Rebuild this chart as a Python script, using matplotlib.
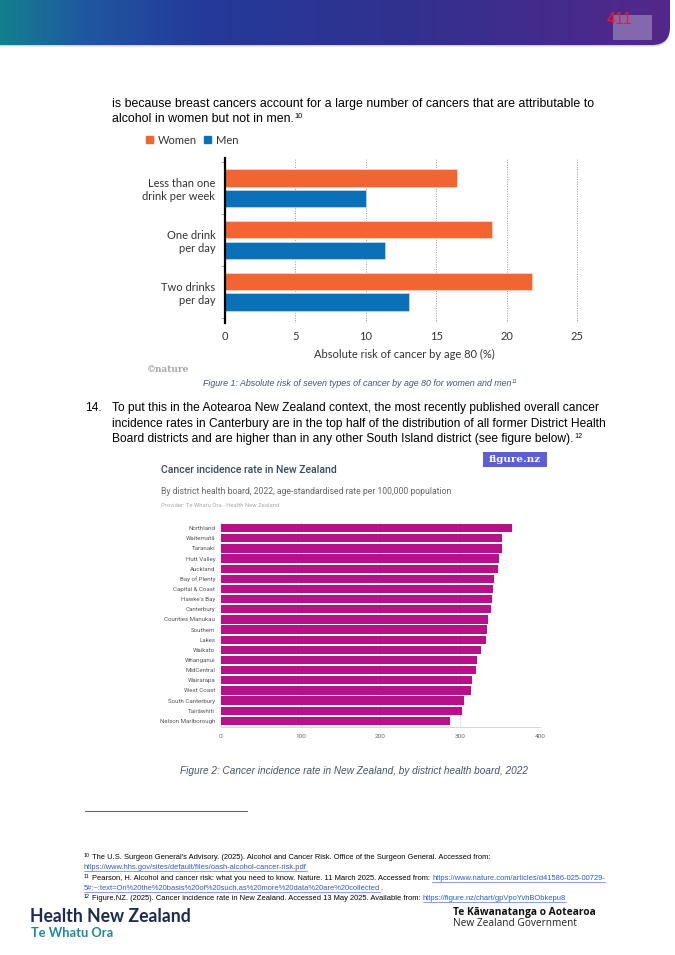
import numpy as np
import matplotlib
matplotlib.use("Agg")
import matplotlib.pyplot as plt
from matplotlib.colors import LinearSegmentedColormap
from matplotlib.patches import FancyBboxPatch, Rectangle

W, H = 675, 955

# chart 1 data (nature)
drink_levels = ["Less than one\ndrink per week", "One drink\nper day", "Two drinks\nper day"]
women_risk = [16.5, 19.0, 21.8]
men_risk = [10.0, 11.4, 13.1]
risk_ticks = [0, 5, 10, 15, 20, 25]

# chart 2 data (figure.nz)
districts = ["Northland", "Waitematā", "Taranaki", "Hutt Valley", "Auckland",
             "Bay of Plenty", "Capital & Coast", "Hawke's Bay", "Canterbury",
             "Counties Manukau", "Southern", "Lakes", "Waikato", "Whanganui",
             "MidCentral", "Wairarapa", "West Coast", "South Canterbury",
             "Tairāwhiti", "Nelson Marlborough"]
rates = [364.5, 353, 352, 349, 348, 342.5, 341.5, 340, 338, 335,
         333, 332, 326.5, 321.5, 320, 315, 313, 305, 302.5, 287]
rate_ticks = [0, 100, 200, 300, 400]

ORANGE = "#f26532"
BLUE = "#0a71b9"
MAGENTA = "#b7118a"
CAPTION = "#44546a"
BODY = ["Liberation Sans", "DejaVu Sans"]

fig = plt.figure(figsize=(W / 100, H / 100), dpi=100)
bg = fig.add_axes([0, 0, 1, 1])
bg.axis("off")


def px_axes(x0, y0, x1, y1):
    return fig.add_axes([x0 / W, 1 - y1 / H, (x1 - x0) / W, (y1 - y0) / H])


# header band
cmap = LinearSegmentedColormap.from_list(
    "hdr", [(0, "#14808f"), (0.12, "#1f58a0"), (0.3, "#243a9a"),
            (0.6, "#31318f"), (1, "#54278a")])
grad = np.tile(np.linspace(0, 1, 400), (30, 1))
shadow = FancyBboxPatch((-30, -30), 700, 76.5, boxstyle="round,pad=0,rounding_size=18",
                        facecolor="#d4d4dc", edgecolor="none", zorder=0)
bg.add_patch(shadow)
im = bg.imshow(grad, cmap=cmap, extent=[0, W, 45, 0], aspect="auto", zorder=1)
clip = FancyBboxPatch((-30, -30), 700, 75, boxstyle="round,pad=0,rounding_size=18",
                      facecolor="none", edgecolor="none", transform=bg.transData)
im.set_clip_path(clip)
bg.add_patch(Rectangle((613, 15), 39, 25, facecolor="white", alpha=0.3, zorder=2))
bg.text(619, 19, "411", color="#e8202a", fontsize=11.5, ha="center", va="center",
        family=BODY, zorder=3)
bg.set_xlim(0, W)
bg.set_ylim(H, 0)

renderer = fig.canvas.get_renderer()


def put(x, y, s, sup=None, size=8.7, **kw):
    kw.setdefault("family", BODY)
    kw.setdefault("va", "center")
    t = bg.text(x, y, s, fontsize=size, **kw)
    if sup:
        x1 = t.get_window_extent(renderer=renderer).x1
        bg.text(x1 + 0.5, y - size * 0.3, sup, fontsize=size * 0.6,
                va="center", family=kw["family"], color=kw.get("color", "black"),
                style=kw.get("style", "normal"))
    return t


def link(x, y, s, size):
    t = bg.text(x, y, s, fontsize=size, color="#2b59c3", va="center",
                family=["Liberation Sans Narrow", "Liberation Sans"])
    bb = t.get_window_extent(renderer=renderer)
    bg.plot([bb.x0, bb.x1], [y + size * 0.75, y + size * 0.75], color="#2b59c3", lw=0.4)
    return bb.x1


# body text above chart 1
put(112, 104, "is because breast cancers account for a large number of cancers that are attributable to", size=8.9)
put(112, 119, "alcohol in women but not in men.", sup="10", size=8.9)

# chart 1 legend
bg.add_patch(Rectangle((146, 136), 7, 7, color=ORANGE))
bg.text(158, 140, "Women", fontsize=8, va="center", color="#333", family="Lato")
bg.add_patch(Rectangle((204, 136), 7, 7, color=BLUE))
bg.text(216, 140, "Men", fontsize=8, va="center", color="#333", family="Lato")

ax1 = px_axes(225, 158, 584, 323)
ypos = np.arange(len(drink_levels))
ax1.barh(ypos - 0.2, women_risk, height=0.34, color=ORANGE, edgecolor="#fcd3c3", lw=0.6, zorder=3)
ax1.barh(ypos + 0.2, men_risk, height=0.34, color=BLUE, edgecolor="#bcd6ee", lw=0.6, zorder=3)
ax1.set_xlim(0, 25.5)
ax1.set_ylim(2.6, -0.58)
ax1.set_xticks(risk_ticks)
ax1.set_xticklabels([str(v) for v in risk_ticks], family="Lato", fontsize=8, color="#333")
ax1.set_yticks(ypos)
ax1.set_yticklabels(drink_levels, family="Lato", fontsize=8, color="#333", linespacing=1.25)
ax1.set_yticks([-0.5, 0.5, 1.5, 2.5], minor=True)
ax1.tick_params(axis="y", which="major", length=0, pad=7)
ax1.tick_params(axis="y", which="minor", length=3, color="#999", width=0.6)
ax1.tick_params(axis="x", length=0, pad=6)
ax1.grid(axis="x", color="#9a9a9a", lw=0.7, linestyle=(0, (1, 1.5)), zorder=0)
for s in ["top", "right", "bottom"]:
    ax1.spines[s].set_visible(False)
ax1.spines["left"].set_linewidth(1.6)
ax1.spines["left"].set_zorder(4)
ax1.set_xlabel("Absolute risk of cancer by age 80 (%)", family="Lato", fontsize=8,
               color="#333", labelpad=5)

bg.text(147, 369, "©nature", color="#a5a5a5", fontsize=6.5, va="center",
        family="DejaVu Serif", weight="bold")
put(203, 383, "Figure 1: Absolute risk of seven types of cancer by age 80 for women and men",
    sup="11", size=6.4, style="italic", color=CAPTION)

# paragraph 14
put(85, 408, "14.", size=8.65)
put(112, 408, "To put this in the Aotearoa New Zealand context, the most recently published overall cancer", size=8.65)
put(112, 424, "incidence rates in Canterbury are in the top half of the distribution of all former District Health", size=8.65)
put(112, 439, "Board districts and are higher than in any other South Island district (see figure below).", sup="12", size=8.65)

# chart 2 header
bg.text(161, 470, "Cancer incidence rate in New Zealand", fontsize=7.6, color="#3b4a5e",
        va="center", family="Roboto", weight="medium")
bg.add_patch(Rectangle((483, 452), 64, 15, facecolor="#5b5fd0", edgecolor="none"))
bg.text(515, 459, "figure.nz", fontsize=7.5, color="white", ha="center", va="center",
        family="DejaVu Serif", weight="bold")
bg.text(161, 491, "By district health board, 2022, age-standardised rate per 100,000 population",
        fontsize=6.2, color="#666", va="center", family="Roboto")
bg.text(161, 505, "Provider: Te Whatu Ora - Health New Zealand", fontsize=4.2, color="#aaa",
        va="center", family="Roboto")

ax2 = px_axes(220.7, 522, 540, 727)
dpos = np.arange(len(districts))
ax2.barh(dpos, rates, height=0.82, color=MAGENTA, zorder=3)
ax2.set_xlim(0, 400)
ax2.set_ylim(19.6, -0.6)
ax2.set_xticks(rate_ticks)
ax2.set_xticklabels([str(v) for v in rate_ticks], fontsize=4.6, color="#666", family="Roboto")
ax2.set_yticks(dpos)
ax2.set_yticklabels(districts, fontsize=4.4, color="#555", family="Roboto")
ax2.tick_params(axis="y", length=0, pad=4)
ax2.tick_params(axis="x", length=0, pad=5)
ax2.grid(axis="x", color="#e2e2e2", lw=0.6, zorder=0)
for s in ["top", "right", "left"]:
    ax2.spines[s].set_visible(False)
ax2.spines["bottom"].set_color("#d0d0d0")
ax2.spines["bottom"].set_linewidth(0.6)

put(180, 771, "Figure 2: Cancer incidence rate in New Zealand, by district health board, 2022",
    size=7.2, style="italic", color=CAPTION)

# footnotes
bg.plot([85, 247], [811, 811], color="#444", lw=0.6)
FN = ["Liberation Sans Narrow", "Liberation Sans"]
fs = 5.45
bg.text(84, 855, "10", fontsize=3.8, va="center", family=FN)
bg.text(92, 857, "The U.S. Surgeon General's Advisory. (2025). Alcohol and Cancer Risk. Office of the Surgeon General. Accessed from:",
        fontsize=fs, va="center", family=FN)
link(84, 867, "https://www.hhs.gov/sites/default/files/oash-alcohol-cancer-risk.pdf", fs)
bg.text(84, 876, "11", fontsize=3.8, va="center", family=FN)
t = bg.text(92, 878, "Pearson, H. Alcohol and cancer risk: what you need to know. Nature. 11 March 2025. Accessed from: ",
            fontsize=fs, va="center", family=FN)
x1 = t.get_window_extent(renderer=renderer).x1
link(x1, 878, "https://www.nature.com/articles/d41586-025-00729-", fs)
x2 = link(84, 888, "5#:~:text=On%20the%20basis%20of%20such,as%20more%20data%20are%20collected", fs)
bg.text(x2, 888, ".", fontsize=fs, va="center", family=FN)
bg.text(84, 896, "12", fontsize=3.8, va="center", family=FN)
t = bg.text(92, 898, "Figure.NZ. (2025). Cancer incidence rate in New Zealand. Accessed 13 May 2025. Available from: ",
            fontsize=fs, va="center", family=FN)
x1 = t.get_window_extent(renderer=renderer).x1
link(x1, 898, "https://figure.nz/chart/gpVpoYvhBObkepu8", fs)

# footer logos
bg.text(30, 916, "Health New Zealand", fontsize=12.7, weight="bold", color="#1c2b4f",
        va="center", family="Lato")
bg.text(31, 933, "Te Whatu Ora", fontsize=9.3, weight="bold", color="#1f8a96",
        va="center", family="Lato")
bg.text(453, 912, "Te Kāwanatanga o Aotearoa", fontsize=7.4, weight="bold", color="#111",
        va="center", family="Open Sans")
bg.text(453, 923, "New Zealand Government", fontsize=7.3, color="#222",
        va="center", family="Open Sans")

fig.savefig("out.png", dpi=100)
